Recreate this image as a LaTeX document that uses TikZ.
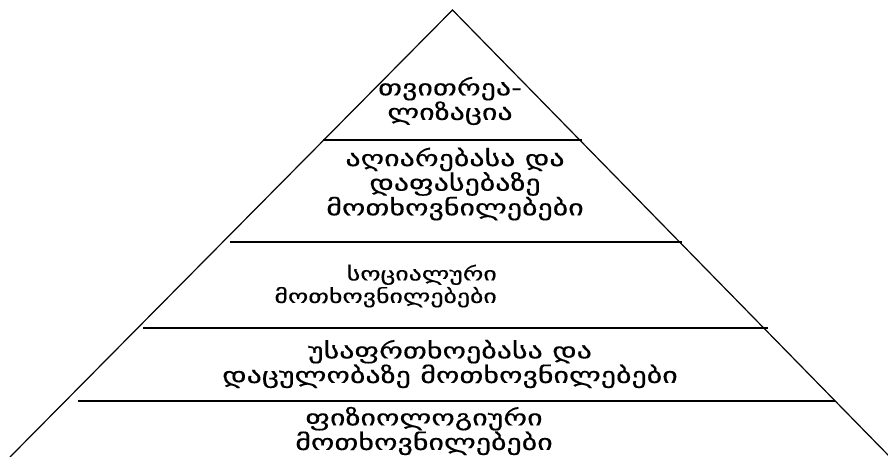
\documentclass[tikz,border=0pt]{standalone}
\usepackage{fontspec}
\newfontfamily\geofont[FakeStretch=1.36,FakeBold=0.4]{DejaVu Sans}
\usepackage{tikz}
\tikzstyle{level} = [draw,line width=1.2pt,-]
\tikzstyle{side} = [draw,line width=1.2pt,-]
\tikzstyle{label} = [inner sep=0pt,font=\geofont\fontsize{22}{22.5}\selectfont]
\tikzstyle{small label} = [label,font=\geofont\fontsize{19}{22.5}\selectfont]

\begin{document}
\begin{tikzpicture}[x=1pt,y=-1pt]
    \useasboundingbox (0,0) rectangle (888,457);
    % First we draw the pyramid
    \coordinate (apex) at (452.5,10);
    \coordinate (bl) at (10,457);
    \coordinate (br) at (890,457);
    \path[side] (bl) -- (apex) -- (br);
    % Then the lines between the levels
    \foreach \y/\xa/\xb in {140/323/582, 242/230/682, 328/143/768, 401/78/835}
        \path[level] (\xa,\y) -- (\xb,\y);
    % And the texts of the levels
    \node[label,align=center] (self) at (450,101) {თვითრეა-\\ლიზაცია};
    \node[label,align=center] (esteem) at (455,184) {აღიარებასა და\\დაფასებაზე\\მოთხოვნილებები};
    \node[small label,align=right,anchor=east] (social) at (497,286) {სოციალური\\მოთხოვნილებები};
    \node[label,align=center] (safety) at (450,364) {უსაფრთხოებასა და\\დაცულობაზე მოთხოვნილებები};
    \node[label,align=center] (body) at (424,431) {ფიზიოლოგიური\\მოთხოვნილებები};
\end{tikzpicture}
\end{document}
